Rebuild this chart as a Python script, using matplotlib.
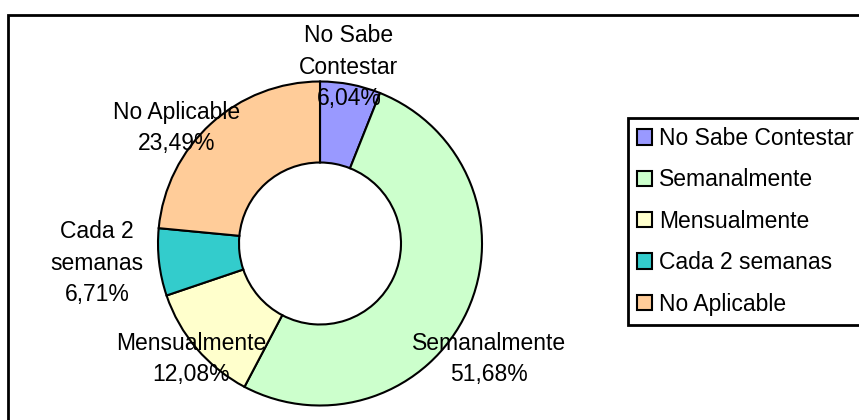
import matplotlib
matplotlib.use('Agg')
import matplotlib.pyplot as plt
from matplotlib.patches import Rectangle

categorias = ['No Sabe Contestar', 'Semanalmente', 'Mensualmente', 'Cada 2 semanas', 'No Aplicable']
porcentajes = [6.04, 51.68, 12.08, 6.71, 23.49]
colores = ['#9999FF', '#CCFFCC', '#FFFFCC', '#33CCCC', '#FFCC99']
etiquetas = ['No Sabe\nContestar', 'Semanalmente', 'Mensualmente', 'Cada 2\nsemanas', 'No Aplicable']

# posicion (px, y hacia abajo) del centro de cada etiqueta
pos_etiquetas = [(349, 67), (489, 359), (191, 359), (97, 263), (177, 128)]

plt.rcParams['font.family'] = ['Liberation Sans', 'DejaVu Sans']
W, H = 859, 420
fig = plt.figure(figsize=(W / 100, H / 100), dpi=100)
ax = fig.add_axes([0, 0, 1, 1])

wedges, _ = ax.pie(porcentajes, colors=colores, startangle=90, counterclock=False,
                   center=(320, H - 243.5), radius=162, frame=True,
                   wedgeprops=dict(width=81, edgecolor='black', linewidth=1.5))
ax.set_xlim(0, W)
ax.set_ylim(0, H)
ax.axis('off')

for (x, y), nombre, p in zip(pos_etiquetas, etiquetas, porcentajes):
    txt = nombre + '\n' + f'{p:.2f}'.replace('.', ',') + '%'
    ax.text(x, H - y, txt, ha='center', va='center', fontsize=16.5,
            linespacing=1.45, color='black')

# marco del grafico
ax.add_patch(Rectangle((8, -20), 900, H - 15 + 20, fill=False, edgecolor='black',
                       linewidth=2, clip_on=False))

leg = ax.legend(wedges, categorias, loc='upper left',
                bbox_to_anchor=(628 / W, 1 - 118 / H), borderaxespad=0,
                fontsize=16.5, frameon=True, fancybox=False, shadow=False,
                framealpha=1, handlelength=0.65, handleheight=0.65,
                handletextpad=0.3, labelspacing=0.8, borderpad=0.4)
leg.get_frame().set_edgecolor('black')
leg.get_frame().set_linewidth(2)
for h in leg.legend_handles:
    h.set_linewidth(1.5)

fig.savefig('out.png', dpi=100)
